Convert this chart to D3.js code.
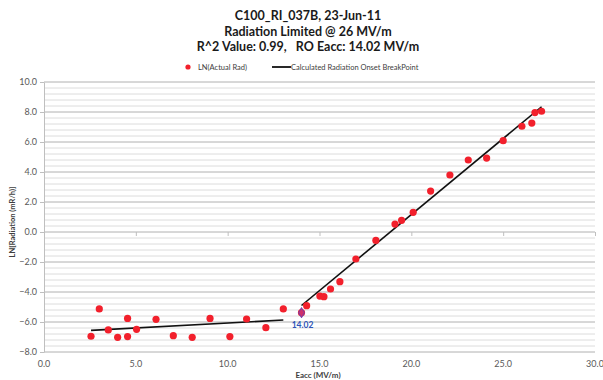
<!DOCTYPE html>
<html><head><meta charset="utf-8">
<script src="https://cdn.jsdelivr.net/npm/d3@7"></script>
<style>body{margin:0;background:#fff}svg{display:block}text{font-family:Lato,"Open Sans",sans-serif}</style>
</head><body><svg id="c" width="603" height="380"></svg>
<script>
const titleLines = ["C100_RI_037B, 23-Jun-11", "Radiation Limited @ 26 MV/m", "R^2 Value: 0.99,   RO Eacc: 14.02 MV/m"];
const seriesNames = ["LN(Actual Rad)", "Calculated Radiation Onset BreakPoint"];
const eacc = [2.56, 3.01, 3.5, 4.01, 4.55, 4.55, 5.04, 6.1, 7.04, 8.07, 9.04, 10.12, 11.03, 12.08, 13.03, 14.02, 14.3, 15.02, 15.24, 15.6, 16.11, 16.98, 18.07, 19.11, 19.47, 20.1, 21.05, 22.1, 23.1, 24.1, 25.0, 26.02, 26.56, 26.73, 27.09];
const lnRad = [-6.95, -5.13, -6.53, -7.02, -5.76, -6.97, -6.49, -5.82, -6.91, -7.02, -5.76, -6.97, -5.8, -6.38, -5.13, -5.38, -4.91, -4.27, -4.31, -3.8, -3.31, -1.8, -0.56, 0.53, 0.78, 1.31, 2.73, 3.8, 4.8, 4.93, 6.09, 7.05, 7.26, 7.96, 8.05];
const lowFitX = [2.56, 13.03], lowFitY = [-6.56, -5.87];
const highFitX = [14.02, 27.09], highFitY = [-4.9, 8.35];
const breakX = 14.02, breakY = -5.38, breakLabel = "14.02";
const xTicks = [0, 5, 10, 15, 20, 25, 30];
const yTicks = [-8, -6, -4, -2, 0, 2, 4, 6, 8, 10];
const xTitle = "Eacc (MV/m)", yTitle = "LN[Radiation (mR/h)]";

const svg = d3.select("#c");
const x = d3.scaleLinear().domain([0, 30]).range([44, 595]);
const y = d3.scaleLinear().domain([-8, 10]).range([352, 82]);

// minor grid
const minor = d3.range(-8, 10.001, 0.4).map(v => +v.toFixed(1));
svg.append("g").selectAll("line").data(minor).join("line")
  .attr("x1", x(0)).attr("x2", x(30)).attr("y1", d => y(d)).attr("y2", d => y(d))
  .attr("stroke", "#dcdcdc").attr("stroke-width", 1);
svg.append("g").selectAll("line").data(yTicks).join("line")
  .attr("x1", x(0)).attr("x2", x(30)).attr("y1", d => y(d)).attr("y2", d => y(d))
  .attr("stroke", "#c2c2c2").attr("stroke-width", 1);

// y axis
const yAxis = svg.append("g").attr("transform", `translate(${x(0)},0)`)
  .call(d3.axisLeft(y).tickValues(yTicks).tickFormat(d3.format(".1f")).tickSize(4).tickSizeOuter(0));
yAxis.select(".domain").attr("stroke", "#bfbfbf");
yAxis.selectAll(".tick line").attr("stroke", "#bfbfbf");
yAxis.selectAll("text").attr("fill", "#595959").attr("font-size", 9).attr("x", -7);

// x axis (crossing at y=0, labels low)
const xAxis = svg.append("g").attr("transform", `translate(0,${y(0)})`)
  .call(d3.axisBottom(x).tickValues(xTicks).tickSize(4).tickSizeOuter(0).tickFormat(""));
xAxis.select(".domain").attr("stroke", "none");
xAxis.selectAll(".tick line").attr("stroke", "#bfbfbf");
svg.append("g").selectAll("text").data(xTicks).join("text")
  .attr("x", d => x(d)).attr("y", 367).attr("text-anchor", "middle")
  .attr("fill", "#595959").attr("font-size", 9).text(d3.format(".1f"));

// fit lines
const line = d3.line().x(d => x(d[0])).y(d => y(d[1]));
svg.append("path").attr("d", line(d3.zip(lowFitX, lowFitY))).attr("stroke", "#111").attr("stroke-width", 1.6).attr("fill", "none");
svg.append("path").attr("d", line(d3.zip(highFitX, highFitY))).attr("stroke", "#111").attr("stroke-width", 1.6).attr("fill", "none");

// points
svg.append("g").selectAll("circle").data(d3.zip(eacc, lnRad)).join("circle")
  .attr("cx", d => x(d[0])).attr("cy", d => y(d[1])).attr("r", 3.6).attr("fill", "#f2202c");

// breakpoint marker
svg.append("path").attr("d", d3.symbol(d3.symbolDiamond, 30)())
  .attr("transform", `translate(${x(breakX)},${y(breakY)})`)
  .attr("fill", "#d0306a").attr("stroke", "#7040b0").attr("stroke-width", 1);
svg.append("text").attr("x", x(breakX) + 1).attr("y", y(breakY) + 15).attr("text-anchor", "middle")
  .attr("font-size", 8.5).attr("font-weight", "bold").attr("fill", "#2e55b8").text(breakLabel);

// titles
svg.append("g").selectAll("text").data(titleLines).join("text")
  .attr("x", 308).attr("y", (d, i) => 20 + i * 15.5).attr("text-anchor", "middle")
  .attr("font-size", 12.5).attr("font-weight", "bold").attr("fill", "#1a1a1a")
  .attr("xml:space", "preserve").style("white-space", "pre").text(d => d);

// legend
svg.append("circle").attr("cx", 188).attr("cy", 67).attr("r", 2.6).attr("fill", "#f2202c");
svg.append("text").attr("x", 198).attr("y", 70).attr("font-size", 7.5).attr("fill", "#404040").text(seriesNames[0]);
svg.append("line").attr("x1", 272).attr("x2", 291).attr("y1", 67).attr("y2", 67).attr("stroke", "#111").attr("stroke-width", 1.8);
svg.append("text").attr("x", 291).attr("y", 70).attr("font-size", 7.5).attr("fill", "#404040").text(seriesNames[1]);

// axis titles
svg.append("text").attr("x", 318).attr("y", 378).attr("text-anchor", "middle")
  .attr("font-size", 8).attr("font-weight", "bold").attr("fill", "#404040").text(xTitle);
svg.append("text").attr("transform", "translate(15,222) rotate(-90)").attr("text-anchor", "middle")
  .attr("font-size", 7.5).attr("font-weight", "bold").attr("fill", "#404040").text(yTitle);
</script></body></html>
